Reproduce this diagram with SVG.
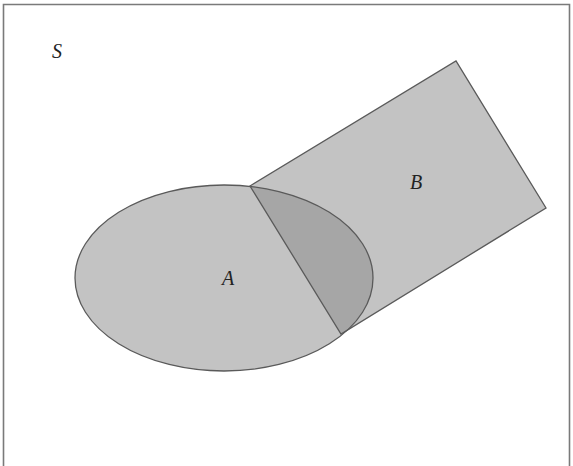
<svg xmlns="http://www.w3.org/2000/svg" width="573" height="466" viewBox="0 0 573 466">
<style>
.frame{fill:none;stroke:#7a7a7a;stroke-width:1.6}
.shape{fill:#c3c3c3}
.inter{fill:#a6a6a6}
.edge{fill:none;stroke:#5a5a5a;stroke-width:1.3}
.lbl{font-family:"Liberation Serif",serif;font-style:italic;font-size:20px;fill:#222}
</style>
<defs>
<clipPath id="rectClip"><polygon points="250,186 456,61 546,208 341,334"/></clipPath>
</defs>
<rect width="573" height="466" fill="#fff"/>
<g id="S">
<path class="frame" d="M3.5,470 V4.5 H569.5 V470"/>
<text class="lbl" x="52" y="58">S</text>
</g>
<g id="A">
<ellipse class="shape" cx="224" cy="278" rx="149" ry="93"/>
</g>
<g id="B">
<polygon class="shape" points="250,186 456,61 546,208 341,334"/>
</g>
<g id="AB">
<ellipse class="inter" cx="224" cy="278" rx="149" ry="93" clip-path="url(#rectClip)"/>
</g>
<g id="outlines">
<ellipse class="edge" cx="224" cy="278" rx="149" ry="93"/>
<polygon class="edge" points="250,186 456,61 546,208 341,334"/>
</g>
<g id="labels">
<text class="lbl" x="222" y="285">A</text>
<text class="lbl" x="410" y="189">B</text>
</g>
<g id="connectors"/>
</svg>
